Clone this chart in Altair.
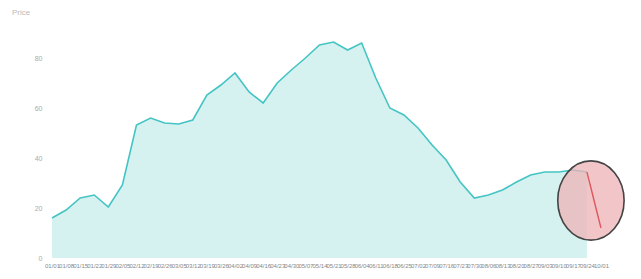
import altair as alt
import pandas as pd

dates = pd.date_range("2023-01-01", periods=40, freq="7D")
values = [16.0, 19.2, 24.0, 25.2, 20.4, 29.2, 53.2, 56.0, 54.0, 53.6,
          55.2, 65.2, 69.2, 74.0, 66.4, 62.0, 70.0, 75.2, 80.0, 85.2,
          86.4, 83.2, 86.0, 72.0, 60.0, 57.2, 52.0, 45.2, 39.2, 30.4,
          24.0, 25.2, 27.2, 30.4, 33.2, 34.4, 34.4, 35.2, 34.4, 12.0]

df = pd.DataFrame({"date": dates, "value": values})
main = df.iloc[:-1]
last = df.iloc[-2:]
marker = pd.DataFrame({"date": [dates[-1] - pd.Timedelta(days=5)], "value": [23.0]})

x = alt.X("date:T", title=None,
          axis=alt.Axis(values=list(dates), format="%m/%d", labelFontSize=6,
                        labelColor="#888", labelOverlap=False, domain=False,
                        ticks=False, grid=False, labelPadding=4),
          scale=alt.Scale(domain=[dates[0] - pd.Timedelta(days=2), dates[-1] + pd.Timedelta(days=2)]))
y = alt.Y("value:Q", title=None,
          scale=alt.Scale(domain=[0, 96]),
          axis=alt.Axis(values=[0, 20, 40, 60, 80], labelFontSize=7, labelColor="#aaa",
                        domain=False, ticks=False, grid=False, labelPadding=6))

area = alt.Chart(main).mark_area(color="#d6f2f0", opacity=1).encode(x=x, y=y)
line = alt.Chart(main).mark_line(color="#45c4c4", strokeWidth=1.6).encode(x=x, y=y)
red = alt.Chart(last).mark_line(color="#e0585c", strokeWidth=1.4).encode(x=x, y=y)
ell = alt.Chart(marker).mark_point(
    shape="M0,-1.1A0.92,1.1 0 1,1 0,1.1A0.92,1.1 0 1,1 0,-1.1Z",
    size=5200, filled=True, fill="#eeb3b7", fillOpacity=0.75,
    stroke="#444", strokeWidth=1.6).encode(x=x, y=y)

chart = alt.layer(area, line, ell, red).properties(
    width=557, height=240,
    background="white",
    autosize=alt.AutoSizeParams(type="none"),
    padding={"left": 40, "top": 10, "right": 28, "bottom": 13},
    title=alt.TitleParams("Price", anchor="start", frame="group", fontSize=8,
                          color="#bbb", fontWeight="normal", offset=1, dx=-36),
).configure_view(strokeWidth=0)

chart.save("out.html", embed_options={"renderer": "svg", "actions": False})
